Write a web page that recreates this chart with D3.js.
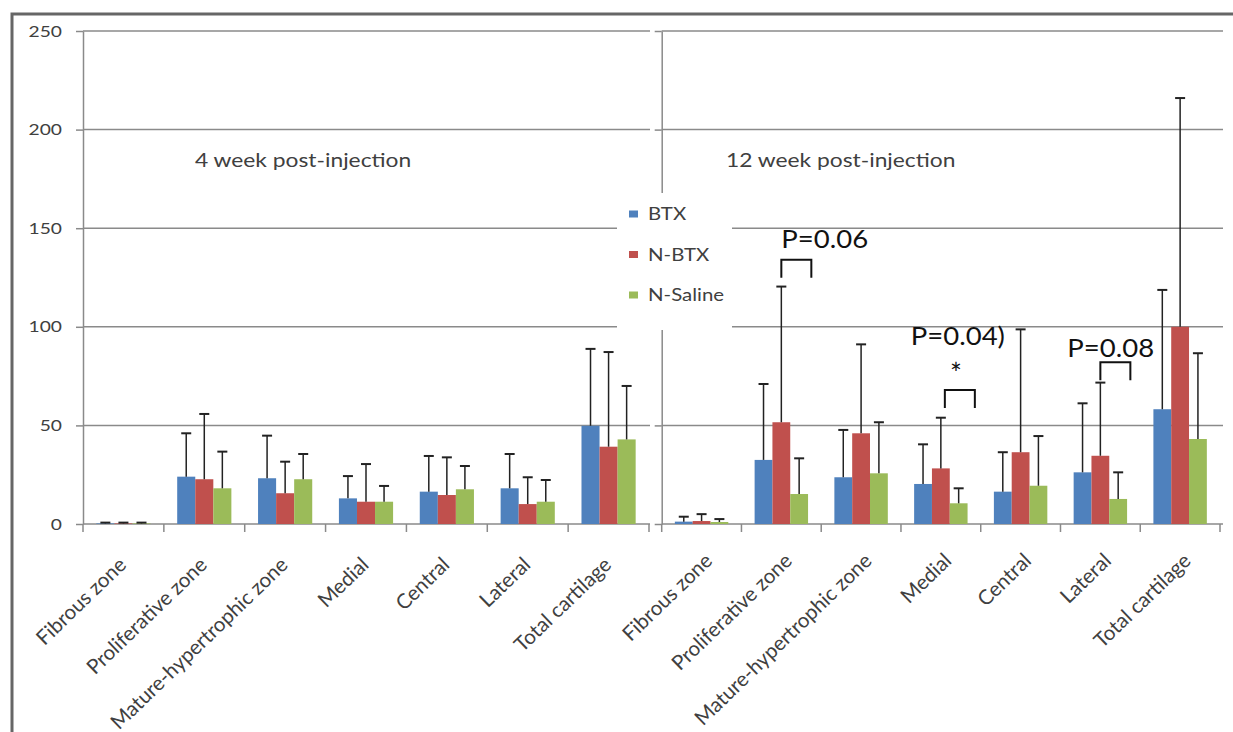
<!DOCTYPE html>
<html>
<head>
<meta charset="utf-8">
<script src="https://cdn.jsdelivr.net/npm/d3@7"></script>
<style>
  body { margin: 0; background: #fff; }
  svg { display: block; }
  text { font-family: Lato, "Open Sans", sans-serif; }
</style>
</head>
<body>
<div id="chart"></div>
<script>
// categories + series
var categories = ["Fibrous zone", "Proliferative zone", "Mature-hypertrophic zone", "Medial", "Central", "Lateral", "Total cartilage"];
var series = ["BTX", "N-BTX", "N-Saline"];
var colors = ["#4f81bd", "#c0504d", "#9bbb59"];
var panelTitles = ["4 week post-injection", "12 week post-injection"];
var yTicks = [0, 50, 100, 150, 200, 250];

// 4 week means / SD
var btx4 = [0.3, 24, 23.2, 13, 16.4, 18.1, 49.8];
var btx4Sd = [0.4, 22, 21.6, 11.3, 18.1, 17.4, 39];
var nbtx4 = [0.3, 22.7, 15.6, 11.3, 14.7, 10.1, 39.2];
var nbtx4Sd = [0.4, 33.1, 16, 19.1, 19.1, 13.6, 48];
var saline4 = [0.3, 18.1, 22.7, 11.3, 17.6, 11.3, 42.9];
var saline4Sd = [0.4, 18.6, 12.8, 8, 11.8, 11, 27.1];

// 12 week means / SD
var btx12 = [1.2, 32.5, 23.7, 20.3, 16.4, 26.2, 58.2];
var btx12Sd = [2.5, 38.5, 24, 20.1, 20, 35, 60.5];
var nbtx12 = [1.5, 51.6, 46, 28.2, 36.4, 34.6, 100];
var nbtx12Sd = [3.5, 68.8, 45.1, 25.7, 62.3, 37.1, 116];
var saline12 = [1, 15.2, 25.7, 10.5, 19.4, 12.7, 43.1];
var saline12Sd = [1.5, 18.1, 25.9, 7.6, 25.2, 13.5, 43.5];

// p-value annotations (12 week panel)
var pCats = ["Proliferative zone", "Medial", "Lateral"];
var pLabels = ["P=0.06", "P=0.04)", "P=0.08"];
var pLevels = [134, 68, 82];

var panels = [
  { means: [btx4, nbtx4, saline4], sds: [btx4Sd, nbtx4Sd, saline4Sd] },
  { means: [btx12, nbtx12, saline12], sds: [btx12Sd, nbtx12Sd, saline12Sd] }
];

var width = 1233, height = 732, k = 1.2;

var svg = d3.select("#chart").append("svg")
    .attr("width", width)
    .attr("height", height);

svg.append("rect").attr("width", width).attr("height", height).attr("fill", "#fff");

// outer frame (only top + left visible)
svg.append("path")
    .attr("d", "M12," + height + "V14H" + width)
    .attr("fill", "none")
    .attr("stroke", "#666")
    .attr("stroke-width", 3);

var y = d3.scaleLinear().domain([0, 250]).range([524, 31]);
var xs = [
  d3.scaleBand().domain(categories).range([83, 649]),
  d3.scaleBand().domain(categories).range([661.7, 1220])
];
var gridEnd = [650, 1223];
var titleX = [195, 726];
var labelShift = ["translate(-1,37) rotate(-44)", "translate(7,33) rotate(-44)"];

// stretched text helper (source font is wide)
function stext(sel, x, yy, str, size, sx) {
  return sel.append("text")
      .attr("transform", "translate(" + x + "," + yy + ") scale(" + sx + ",1)")
      .attr("font-size", size)
      .text(str);
}

panels.forEach(function(p, i) {
  var x = xs[i];
  var x0 = x.range()[0];
  var inner = d3.scaleBand().domain(series)
      .range([x.bandwidth() * 0.165, x.bandwidth() * 0.835]);
  var g = svg.append("g");

  // gridlines
  g.selectAll("line.grid")
      .data(yTicks.slice(1))
      .enter().append("line")
      .attr("x1", x0).attr("x2", gridEnd[i])
      .attr("y1", function(d) { return y(d); })
      .attr("y2", function(d) { return y(d); })
      .attr("stroke", "#8a8a8a")
      .attr("stroke-width", 1.5);

  // y axis
  var ya = g.append("g")
      .attr("transform", "translate(" + x0 + ",0)")
      .call(d3.axisLeft(y).tickValues(yTicks).tickSize(7).tickSizeOuter(0).tickPadding(10.5)
        .tickFormat(i ? function() { return ""; } : d3.format("d")));
  ya.select(".domain").attr("stroke", "#8a8a8a").attr("stroke-width", 1.5);
  ya.selectAll(".tick line").attr("stroke", "#8a8a8a").attr("stroke-width", 1.5);
  ya.selectAll(".tick text")
      .attr("font-size", 16)
      .attr("fill", "#404040")
      .attr("font-family", "Lato")
      .attr("transform", "scale(" + k + ",1)");

  // x axis + labels
  var xa = g.append("g")
      .attr("transform", "translate(0," + y(0) + ")")
      .call(d3.axisBottom(x).tickSize(0).tickSizeOuter(0));
  xa.select(".domain").attr("stroke", "#8a8a8a").attr("stroke-width", 1.5)
      .attr("d", "M" + x0 + ",0H" + gridEnd[i]);
  xa.selectAll(".tick text")
      .attr("font-size", 20.5)
      .attr("font-family", "Lato")
      .attr("fill", "#404040")
      .attr("text-anchor", "end")
      .attr("x", 0).attr("y", 0).attr("dy", "0.35em")
      .attr("transform", labelShift[i]);

  // boundary ticks
  g.selectAll("line.xtick")
      .data(categories.map(function(c) { return x(c); }).concat([x.range()[1]]))
      .enter().append("line")
      .attr("x1", function(d) { return d; }).attr("x2", function(d) { return d; })
      .attr("y1", y(0)).attr("y2", y(0) + 8)
      .attr("stroke", "#8a8a8a")
      .attr("stroke-width", 1.5);

  // bars + error bars
  series.forEach(function(s, j) {
    var rows = categories.map(function(c, n) {
      return { cat: c, v: p.means[j][n], sd: p.sds[j][n] };
    });
    var sg = g.append("g");
    sg.selectAll("rect")
        .data(rows)
        .enter().append("rect")
        .attr("x", function(d) { return x(d.cat) + inner(s); })
        .attr("width", inner.bandwidth())
        .attr("y", function(d) { return y(d.v); })
        .attr("height", function(d) { return y(0) - y(d.v); })
        .attr("fill", colors[j]);

    var cx = function(d) { return x(d.cat) + inner(s) + inner.bandwidth() / 2; };
    sg.selectAll("line.err")
        .data(rows)
        .enter().append("line")
        .attr("x1", cx).attr("x2", cx)
        .attr("y1", function(d) { return y(d.v); })
        .attr("y2", function(d) { return y(d.v + d.sd); })
        .attr("stroke", "#222").attr("stroke-width", 1.5);
    sg.selectAll("line.cap")
        .data(rows)
        .enter().append("line")
        .attr("x1", function(d) { return cx(d) - 5; })
        .attr("x2", function(d) { return cx(d) + 5; })
        .attr("y1", function(d) { return y(d.v + d.sd); })
        .attr("y2", function(d) { return y(d.v + d.sd); })
        .attr("stroke", "#222").attr("stroke-width", 2);
  });

  stext(g, titleX[i], 167, panelTitles[i], 19, k).attr("fill", "#404040");
});

// legend (white box over the gridlines)
var lg = svg.append("g");
lg.append("rect")
    .attr("x", 617).attr("y", 193).attr("width", 115).attr("height", 137)
    .attr("fill", "#fff");
series.forEach(function(s, j) {
  var ly = 214 + j * 40.5;
  lg.append("rect")
      .attr("x", 629).attr("y", ly - 3.5).attr("width", 9).attr("height", 7)
      .attr("fill", colors[j]);
  stext(lg, 648, ly + 6, s, 17, k).attr("fill", "#404040");
});

// p-value brackets on the 12 week panel
var xr = xs[1];
var innerR = d3.scaleBand().domain(series)
    .range([xr.bandwidth() * 0.165, xr.bandwidth() * 0.835]);
var textOff = [[0, -12], [-34, -45], [-33, -5]];
var ag = svg.append("g");
pCats.forEach(function(c, n) {
  var bx = xr(c) + innerR("N-BTX") + innerR.bandwidth() / 2 + (n === 1 ? 4 : 0);
  var by = y(pLevels[n]);
  ag.append("path")
      .attr("d", "M" + bx + "," + (by + 18) + "V" + by + "H" + (bx + 30) + "V" + (by + 18))
      .attr("fill", "none")
      .attr("stroke", "#111")
      .attr("stroke-width", 2);
  stext(ag, bx + textOff[n][0], by + textOff[n][1], pLabels[n], 25, 1.1).attr("fill", "#111");
  if (n === 1) {
    ag.append("text")
        .attr("x", bx + 11).attr("y", by - 6)
        .attr("text-anchor", "middle")
        .attr("font-size", 28)
        .attr("fill", "#111")
        .text("*");
  }
});
</script>
</body>
</html>
